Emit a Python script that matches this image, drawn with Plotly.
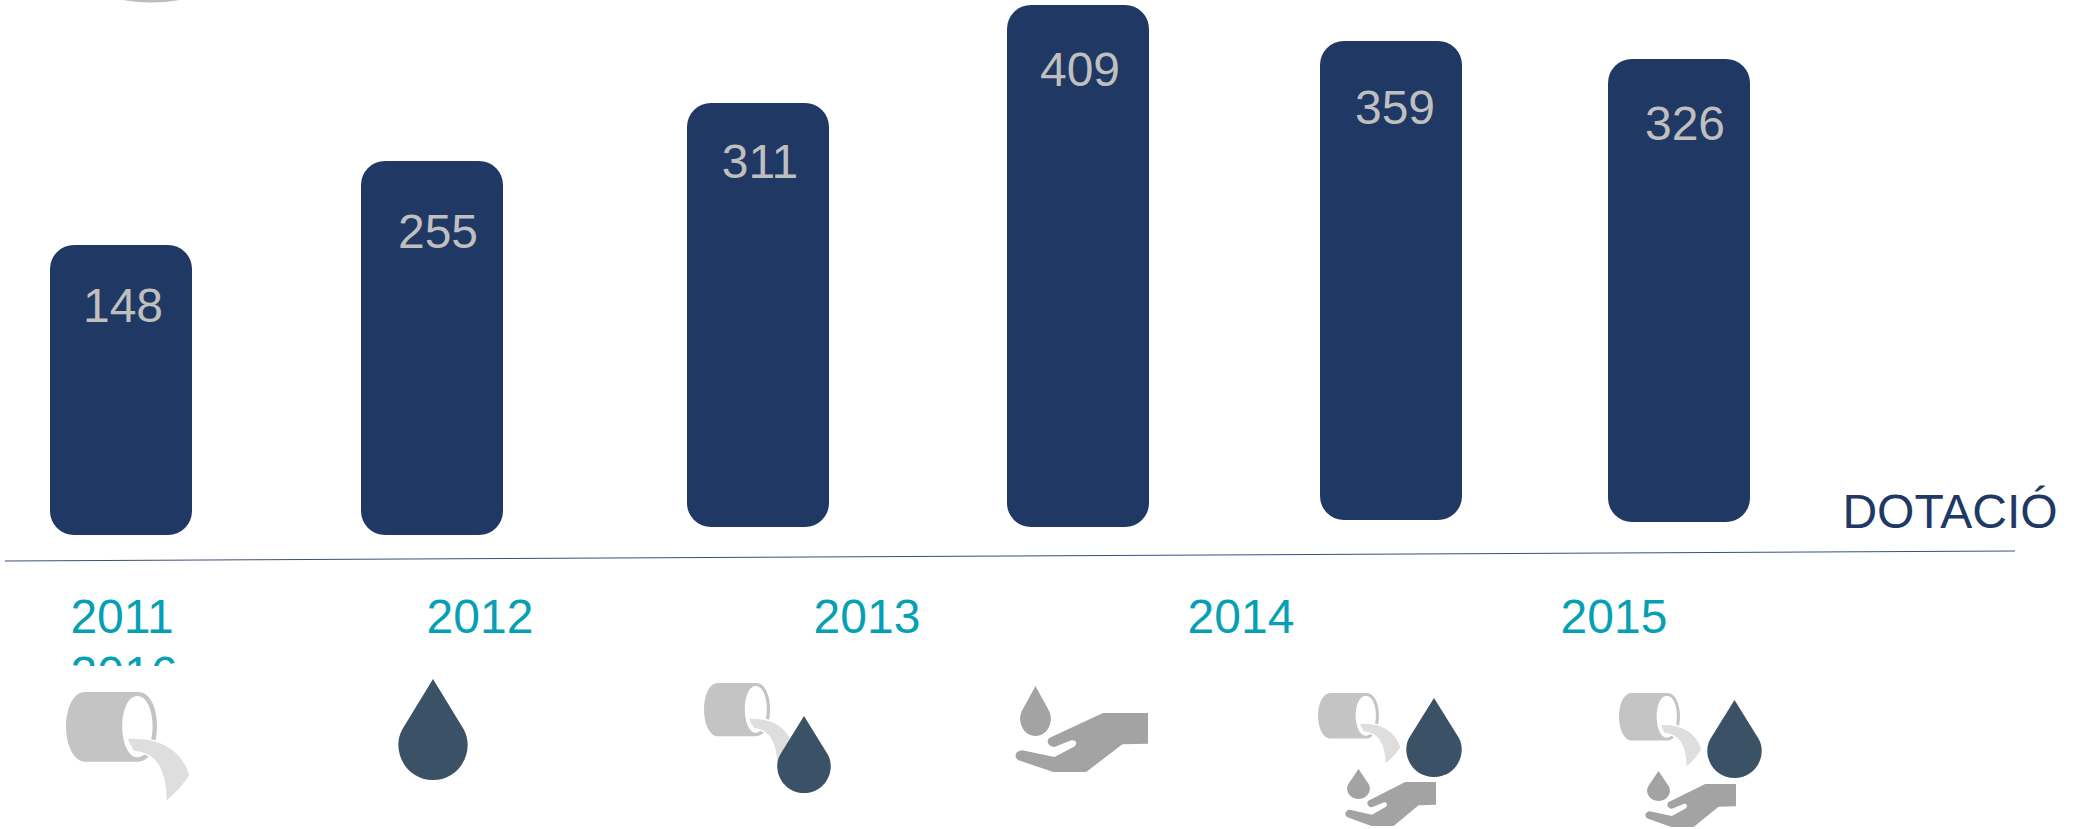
import plotly.graph_objects as go

# ---- data -----------------------------------------------------------------
years = ["2011", "2012", "2013", "2014", "2015", "2016"]
values = [148, 255, 311, 409, 359, 326]
value_labels = [str(v) for v in values]
# bar heights and slanted baseline (axis units)
bar_heights = [290, 374, 424, 522, 479, 463]
bar_baselines = [0, 0, 8, 8, 15, 13]
bar_centres = [121, 432, 758, 1078, 1391, 1679]
label_x = [123, 438, 760, 1080, 1395, 1685]
label_y = [225, 299, 369, 461, 423, 407]
year_x = [122, 480, 867, 1241, 1614, 124]
year_y = [-86, -86, -86, -86, -86, -143]
series_name = "DOTACIÓ"

NAVY = "#203864"
TEAL = "#06A0B4"
LABEL = "#BFBFBF"
DROP = "#3B5266"
HAND = "#A3A3A3"
PIPE = "#C4C4C4"
STREAM = "#DEDEDE"

W, H, BASE = 2075, 829, 535


def Y(p):
    return BASE - p


def path(cmds, box, src):
    """Map icon-local coordinates (src box) to the pixel-aligned axes."""
    x0, y0, x1, y1 = box
    sx0, sy0, sx1, sy1 = src
    out = []
    for c in cmds:
        op, pts = c[0], c[1:]
        s = op
        coords = []
        for px, py in pts:
            X = x0 + (px - sx0) / (sx1 - sx0) * (x1 - x0)
            Yv = y0 + (py - sy0) / (sy1 - sy0) * (y1 - y0)
            coords.append(f"{X:.2f},{Y(Yv):.2f}")
        out.append(s + " ".join(coords))
    return " ".join(out) + " Z"


def shape(p, fill, line=None, lw=0):
    return dict(type="path", xref="x", yref="y", path=p, fillcolor=fill,
                line=dict(color=line or fill, width=lw), layer="above")


def drop(box, color=DROP):
    cmds = [("M", (.5, 0)), ("L", (.94, .5)), ("C", (1.1, .7), (.9, 1), (.5, 1)),
            ("C", (.1, 1), (-.1, .7), (.06, .5))]
    return shape(path(cmds, box, (0, 0, 1, 1)), color)


def pipe(box):
    src = (148, 458, 426, 785)
    body = [("M", (190, 458)), ("L", (310, 458)), ("C", (338, 458), (352, 510), (352, 560)),
            ("C", (352, 610), (338, 665), (310, 665)), ("L", (190, 665)),
            ("C", (165, 665), (148, 615), (148, 560)), ("C", (148, 505), (165, 458), (190, 458))]
    hole = [("M", (308, 470)), ("C", (330, 470), (342, 515), (342, 560)),
            ("C", (342, 605), (330, 652), (308, 652)), ("C", (286, 652), (274, 605), (274, 560)),
            ("C", (274, 515), (286, 470), (308, 470))]
    stream = [("M", (285, 595)), ("C", (360, 590), (410, 630), (426, 705)),
              ("C", (410, 740), (390, 765), (372, 785)), ("C", (372, 700), (355, 640), (300, 635)),
              ("C", (295, 625), (288, 610), (285, 595))]
    return [shape(path(body, box, src), PIPE), shape(path(hole, box, src), "#FFFFFF"),
            shape(path(stream, box, src), STREAM, "#FFFFFF", 1.5)]


def hand(box):
    src = (618, 518, 878, 695)
    cmds = [("M", (790, 518)), ("L", (878, 518)), ("L", (878, 610)), ("L", (828, 612)),
            ("L", (757, 695)), ("L", (693, 695)), ("L", (625, 660)),
            ("C", (615, 650), (618, 632), (632, 630)), ("L", (695, 650)), ("L", (735, 618)),
            ("C", (742, 605), (735, 598), (728, 600)), ("L", (695, 620)),
            ("C", (682, 618), (678, 600), (686, 592))]
    return shape(path(cmds, box, src), HAND)


fig = go.Figure()
# a bar with an explicit base gets all four corners rounded
fig.add_bar(x=bar_centres, y=bar_heights, base=bar_baselines, width=142,
            marker=dict(color=NAVY, cornerradius=24, line_width=0), name=series_name, hoverinfo="skip")
fig.add_scatter(x=label_x, y=label_y, mode="text", text=value_labels, textposition="middle center",
                textfont=dict(family="Liberation Sans", size=48, color=LABEL), cliponaxis=False, hoverinfo="skip")
fig.add_scatter(x=year_x, y=year_y, mode="text", text=years, textposition="middle center",
                textfont=dict(family="Liberation Sans", size=48, color=TEAL), cliponaxis=False, hoverinfo="skip")
fig.add_scatter(x=[1950], y=[Y(516)], mode="text", text=[series_name], textposition="middle center",
                textfont=dict(family="Liberation Sans", size=48, color=NAVY), cliponaxis=False, hoverinfo="skip")

shapes = [
    # slanted axis rule
    dict(type="line", xref="x", yref="y", x0=5, y0=Y(561), x1=2015, y1=Y(551),
         line=dict(color="#3A4F7E", width=1), layer="above"),
    # mask hiding the lower part of the overflowing 2016 label
    dict(type="rect", xref="x", yref="y", x0=50, x1=200, y0=Y(666), y1=Y(692),
         fillcolor="#FFFFFF", line_width=0, layer="above"),
    # sliver of a cut-off icon at the top edge
    shape(path([("M", (123, 0)), ("Q", (151, 5), (180, 0))], (0, 0, 1, 1), (0, 0, 1, 1)), "#BDBDBD"),
]
shapes += pipe((66, 692, 190, 802))
shapes.append(drop((398, 679, 468, 780)))
shapes += pipe((704, 683, 794, 767))
shapes.append(drop((777, 716, 831, 793)))
shapes.append(drop((1020, 686, 1051, 736), HAND))
shapes.append(hand((1015, 713, 1148, 772)))
shapes += pipe((1318, 693, 1401, 765))
shapes.append(drop((1406, 698, 1462, 777)))
shapes.append(drop((1347, 769, 1370, 799), HAND))
shapes.append(hand((1345, 782, 1436, 826)))
shapes += pipe((1619, 693, 1702, 768))
shapes.append(drop((1707, 700, 1762, 778)))
shapes.append(drop((1647, 771, 1670, 801), HAND))
shapes.append(hand((1645, 784, 1736, 827)))

fig.update_layout(
    width=W, height=H, margin=dict(l=0, r=0, t=0, b=0), showlegend=False,
    barmode="overlay", paper_bgcolor="#FFFFFF", plot_bgcolor="#FFFFFF", shapes=shapes,
    xaxis=dict(range=[0, W], visible=False, fixedrange=True),
    yaxis=dict(range=[BASE - H, BASE], visible=False, fixedrange=True),
)
fig.write_html("out.html", post_script="document.body.style.margin='0';document.body.style.overflow='hidden';",
               config={"displayModeBar": False})
